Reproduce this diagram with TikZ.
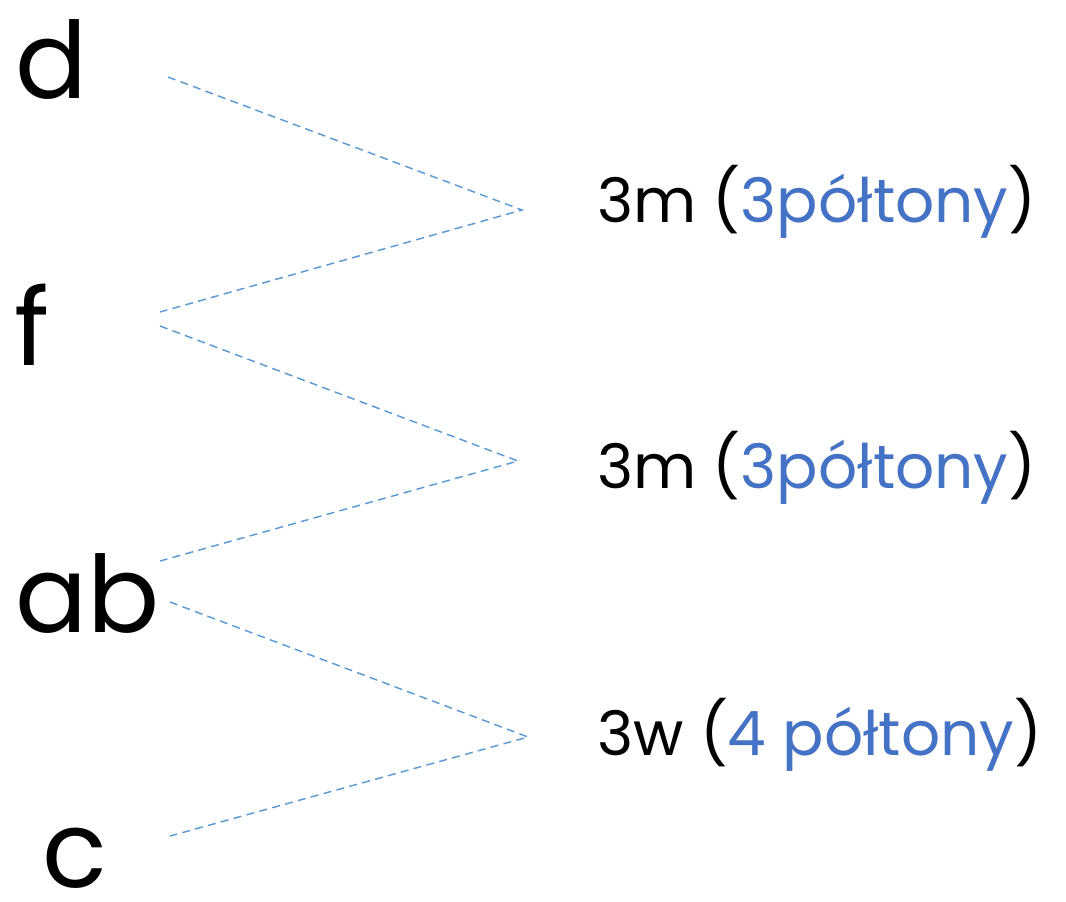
\documentclass[tikz,border=0pt]{standalone}
\usepackage{fontspec}
\setmainfont{Poppins}
\usepackage{xcolor}
\usetikzlibrary{positioning}
\definecolor{NoteBlue}{RGB}{68,114,196}
\definecolor{LineBlue}{RGB}{91,155,213}

\begin{document}
\begin{tikzpicture}[x=0.75pt,y=-0.75pt,
  tone/.style={anchor=base west,inner sep=0pt,font=\fontsize{80}{80}\selectfont},
  lbl/.style={anchor=base west,inner sep=0pt,font=\fontsize{46}{46}\selectfont},
  link/.style={draw=LineBlue,dashed,line width=1.1pt,dash pattern=on 6pt off 4pt},
]
\useasboundingbox (0,0) rectangle (1066,901);
% notes of the chord
\node[tone] (d) at (15,98) {d};
\node[tone] (f) at (14,365) {f};
\node[tone] (ab) at (15,632) {ab};
\node[tone] (c) at (42,887) {c};
% intervals
\node[lbl] (i1) at (597,222) {3m (\textcolor{NoteBlue}{3półtony})};
\node[lbl] (i2) at (597,488) {3m (\textcolor{NoteBlue}{3półtony})};
\node[lbl] (i3) at (597,755) {3w (\textcolor{NoteBlue}{4 półtony})};
% line ends
\coordinate (d1) at (168,77);
\coordinate (f0) at (160,312);
\coordinate (f1) at (160,326);
\coordinate (ab0) at (160,561);
\coordinate (ab1) at (170,602);
\coordinate (c0) at (170,836);
\coordinate (v1) at (522,210);
\coordinate (v2) at (518,461);
\coordinate (v3) at (528,737);
\draw[link] (d1) -- (v1) -- (f0);
\draw[link] (f1) -- (v2) -- (ab0);
\draw[link] (ab1) -- (v3) -- (c0);
\end{tikzpicture}
\end{document}
